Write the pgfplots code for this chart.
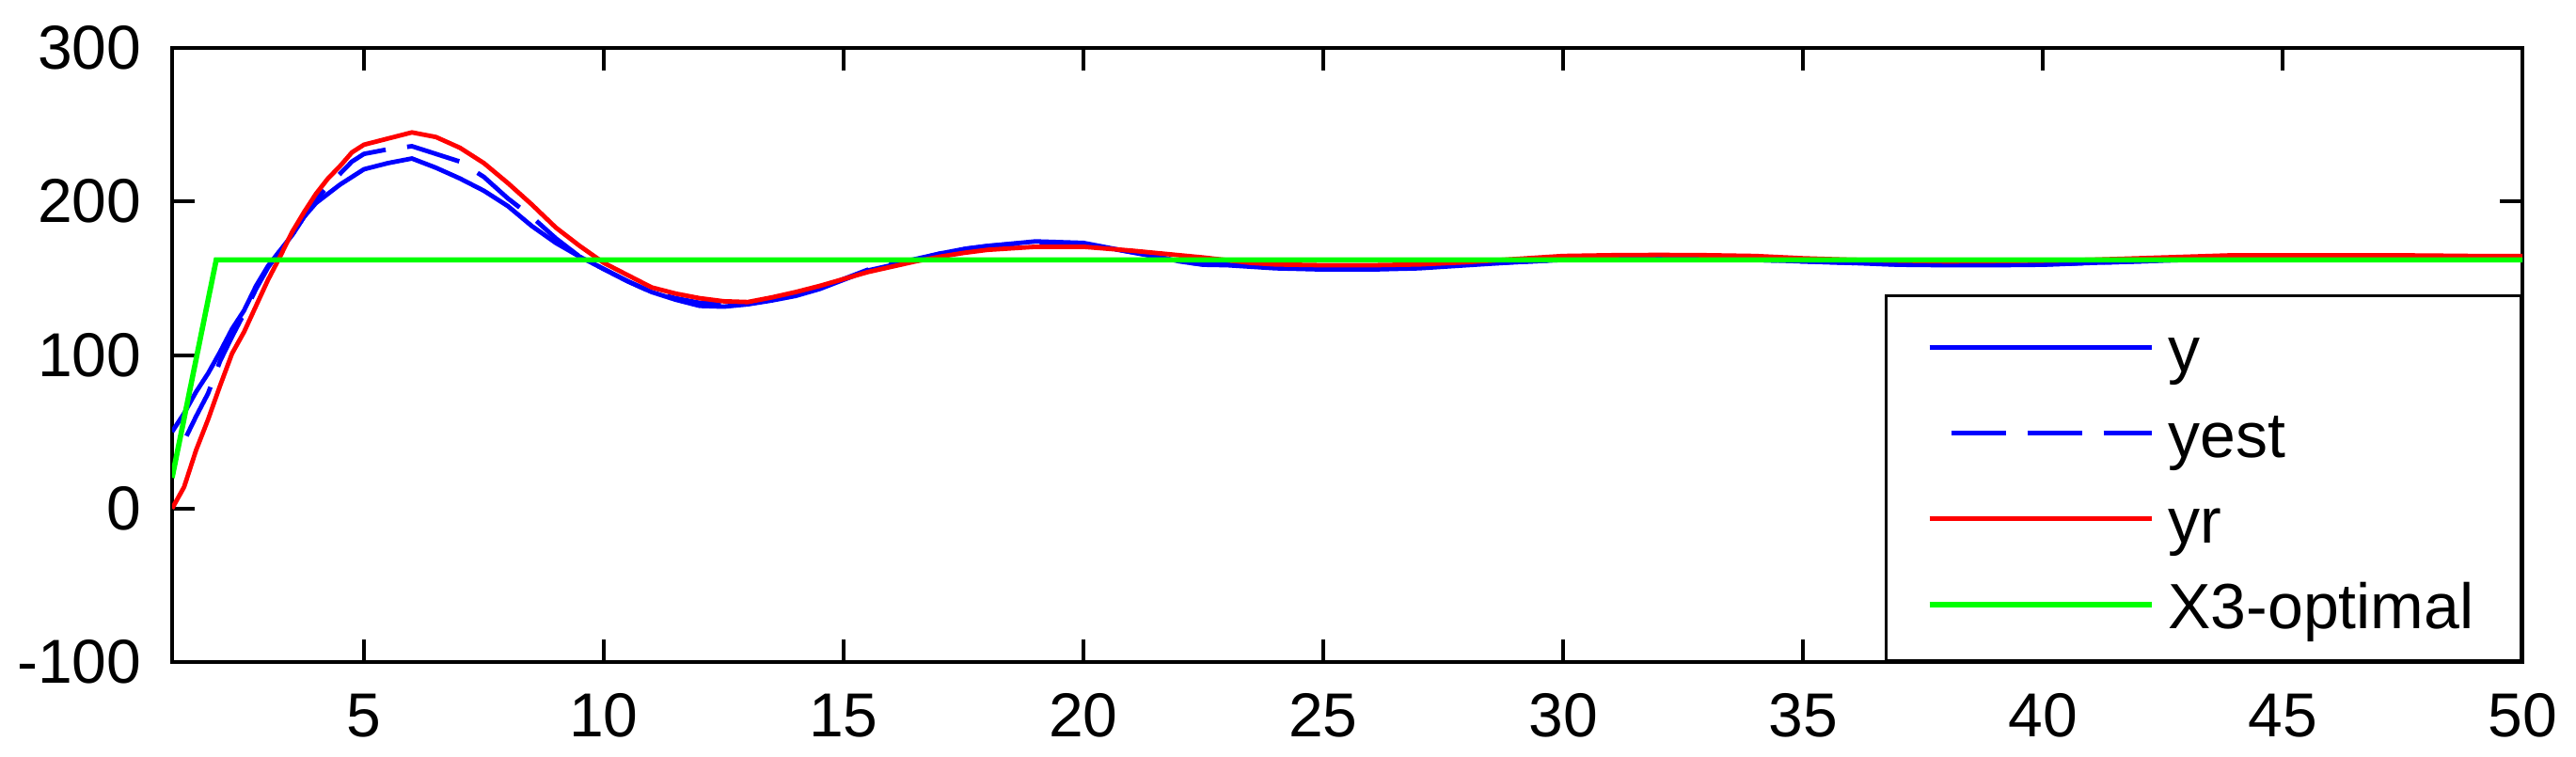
\documentclass[border=0pt]{standalone}
\usepackage{pgfplots}
\pgfplotsset{compat=1.18}
\usepackage{fontspec}
\setmainfont{Liberation Sans}
\definecolor{mblue}{RGB}{0,0,255}
\definecolor{mred}{RGB}{255,0,0}
\definecolor{mgreen}{RGB}{0,255,0}
\begin{document}
\begin{tikzpicture}
\useasboundingbox (-45.75pt,-25pt) rectangle (639pt,176pt);
\begin{axis}[
  at={(0pt,0pt)}, anchor=south west,
  scale only axis, width=624.75pt, height=163.25pt,
  xmin=1, xmax=50, ymin=-100, ymax=300,
  axis line style={line width=1pt},
  xtick={5,10,15,20,25,30,35,40,45,50},
  xticklabels={5,10,15,20,25,30,35,40,45,50},
  ytick={-100,0,100,200,300},
  yticklabels={-100,0,100,200,300},
  tick align=inside,
  major tick length=6pt,
  every tick/.style={line width=1pt, black},
  tick label style={font=\fontsize{16.5}{18}\selectfont},
  xticklabel style={inner sep=0pt, yshift=-8.25pt},
  yticklabel style={inner sep=0pt, xshift=-8pt},
  legend cell align=left,
  legend image code/.code={\draw[#1] (0pt,0.6pt) -- (59pt,0.6pt);},
  legend style={at={(rel axis cs:1,0)}, anchor=south east, draw=black,
    line width=0.8pt, inner xsep=10.75pt, inner ysep=4.2pt, row sep=2.6pt, column sep=3.75pt,
    font=\fontsize{17}{19}\selectfont,
    nodes={inner sep=0pt, text height=16pt, text depth=4.2pt, text width=83pt, align=left}},
]
\addplot[mblue, line width=1.2pt] coordinates {
(1,50) (1.25,62) (1.5,76) (1.75,88) (2,102) (2.25,117) (2.5,129) (2.75,145) (3,158)
(3.25,168) (3.5,178) (3.75,190) (4,199) (4.25,205) (4.5,211) (4.75,216) (5,221)
(5.5,225) (6,228) (6.5,222) (7,215) (7.5,207) (8,197) (8.5,184) (9,173) (9.5,164)
(10,156) (10.5,148) (11,141) (11.5,136) (12,132) (12.5,131.5) (13,133) (13.5,135.5)
(14,138.5) (14.5,143) (15,149) (15.5,155) (16,158.5) (16.5,162) (17,166) (17.5,169)
(18,171) (19,174) (20,173) (21,167) (21.5,164.5) (22,161) (22.5,158.8) (23,158.5)
(24,156.5) (25,155.7) (26,155.7) (27,156.5) (28,158.5) (29,160.5) (30,162) (31,162.5)
(32,162.8) (33,162.5) (34,162) (35,161) (36,160) (37,158.8) (38,158.5) (39,158.5)
(40,158.8) (41,160) (42,161) (43,162) (44,162.5) (45,162.8) (46,162.8) (47,162.5)
(48,162.2) (49,162) (50,162)};
\addlegendentry{y}
\addplot[mblue, line width=1.2pt, dash pattern=on 14.5pt off 5.75pt, dash phase=14.5pt] coordinates {
(1,37) (1.25,44) (1.5,60) (1.75,75) (2,96) (2.25,112) (2.5,127) (2.75,143) (3,157)
(3.25,168) (3.5,178) (3.75,190) (4,201) (4.25,210) (4.5,218) (4.75,226) (5,231)
(5.5,234) (6,236) (6.5,231) (7,226) (7.5,216) (8,202) (8.5,190) (9,176) (9.5,164)
(10,156) (10.5,148) (11,141) (11.5,137) (12,134) (12.5,133) (13,134) (13.5,136)
(14,139) (14.5,143.5) (15,149.5) (15.5,155.5) (16,159) (16.5,162.5) (17,166) (17.5,169)
(18,171) (19,173.5) (20,172.5) (21,167) (21.5,164) (22,161) (22.5,159) (23,158.8)
(24,157.5) (25,157) (26,157) (27,157.5) (28,159) (29,160.5) (30,162) (31,162.5)
(32,162.8) (33,162.5) (34,162) (35,161) (36,160) (37,159) (38,158.8) (39,158.8)
(40,159) (41,160) (42,161) (43,162) (44,162.5) (45,162.8) (46,162.8) (47,162.5)
(48,162.2) (49,162) (50,162)};
\addlegendentry{yest}
\addplot[mred, line width=1.2pt] coordinates {
(1,0) (1.25,14) (1.5,38) (1.75,58) (2,80) (2.25,101) (2.5,115) (2.75,132) (3,149)
(3.25,164) (3.5,180) (3.75,193) (4,205) (4.25,215) (4.5,223) (4.75,232) (5,237)
(5.5,241) (6,245) (6.5,242) (7,235) (7.5,225) (8,212) (8.5,198) (9,183) (9.5,171)
(10,160) (10.5,152) (11,144) (11.5,140) (12,137) (12.5,135) (13,134.5) (13.5,137.5)
(14,141) (14.5,145) (15,149.5) (15.5,154) (16,157.5) (16.5,161) (17,164) (17.5,166.5)
(18,168.5) (19,170.5) (20,170.5) (21,168) (22,165) (22.5,163.5) (23.5,160) (24,159)
(25,158.5) (26,158.5) (27,159) (28,160.5) (29,162.5) (30,164.5) (31,165) (32,165.2)
(33,165) (34,164.5) (35,163) (36,162) (37,161.5) (38,161) (39,161.2) (40,161.5)
(41,162) (42,163) (43,164) (44,165) (45,165) (46,165) (47,165) (48,164.8) (49,164.5)
(50,164.5)};
\addlegendentry{yr}
\addplot[mgreen, line width=1.4pt] coordinates {(1,20) (1.92,162) (50,162)};
\addlegendentry{X3-optimal}
\end{axis}
\end{tikzpicture}
\end{document}
